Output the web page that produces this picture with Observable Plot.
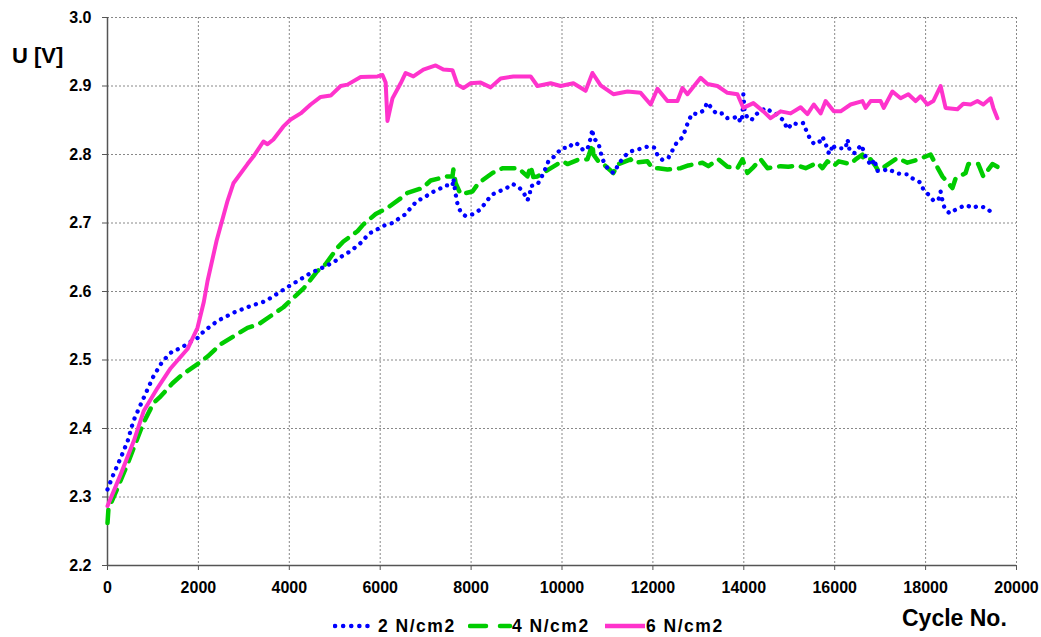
<!DOCTYPE html>
<html>
<head>
<meta charset="utf-8">
<script src="https://cdn.jsdelivr.net/npm/d3@7"></script>
<script src="https://cdn.jsdelivr.net/npm/@observablehq/plot@0.6"></script>
<style>
  html, body { margin: 0; padding: 0; background: #fff; }
  #wrap { position: relative; width: 1041px; height: 637px; font-family: "Liberation Sans", Arial, sans-serif; font-weight: bold; color: #000; }
  .lbl { position: absolute; white-space: nowrap; line-height: normal; }
  #ylabel { left: 12px; top: 43px; font-size: 22px; }
  #xlabel { left: 902px; top: 605px; font-size: 23px; }
  .legtext { font-size: 17.5px; letter-spacing: 1.5px; top: 616px; }
  .legsw { position: absolute; top: 619px; display: block; }
</style>
</head>
<body>
<div id="wrap">
  <div id="chart"></div>
  <div id="ylabel" class="lbl">U [V]</div>
  <div id="xlabel" class="lbl">Cycle No.</div>
</div>
<script>
const seriesNames = ["2 N/cm2", "4 N/cm2", "6 N/cm2"];
const xTicks = [0, 2000, 4000, 6000, 8000, 10000, 12000, 14000, 16000, 18000, 20000];
const yTicks = [2.2, 2.3, 2.4, 2.5, 2.6, 2.7, 2.8, 2.9, 3.0];

// 2 N/cm2 : [cycle, voltage]
const s2 = [[0,2.311],[130,2.333],[290,2.357],[440,2.381],[570,2.411],[730,2.435],[880,2.457],[1010,2.476],[1210,2.498],[1430,2.513],[1610,2.517],[1780,2.525],[1980,2.532],[2120,2.542],[2420,2.557],[2770,2.569],[3150,2.579],[3480,2.586],[4000,2.608],[4250,2.618],[4470,2.627],[4800,2.637],[4980,2.643],[5170,2.652],[5350,2.659],[5610,2.673],[5740,2.684],[5940,2.691],[6070,2.696],[6270,2.7],[6400,2.706],[6560,2.713],[6670,2.722],[6820,2.733],[6950,2.736],[7110,2.744],[7260,2.748],[7440,2.755],[7590,2.754],[7610,2.765],[7660,2.742],[7700,2.728],[7770,2.716],[7880,2.71],[8050,2.713],[8210,2.72],[8320,2.73],[8450,2.741],[8600,2.746],[8760,2.75],[8910,2.757],[9040,2.753],[9150,2.745],[9240,2.733],[9290,2.741],[9310,2.754],[9460,2.756],[9550,2.767],[9640,2.78],[9700,2.79],[9810,2.796],[9950,2.806],[10010,2.81],[10140,2.809],[10250,2.817],[10360,2.815],[10470,2.806],[10560,2.808],[10630,2.824],[10670,2.837],[10690,2.824],[10800,2.817],[10890,2.793],[11000,2.78],[11130,2.773],[11290,2.79],[11440,2.802],[11570,2.806],[11770,2.809],[11900,2.812],[12040,2.81],[12100,2.799],[12210,2.792],[12340,2.795],[12430,2.806],[12520,2.817],[12650,2.825],[12720,2.837],[12780,2.849],[12870,2.86],[12980,2.859],[13110,2.864],[13200,2.876],[13330,2.864],[13420,2.859],[13530,2.86],[13640,2.853],[13770,2.853],[13860,2.856],[13930,2.847],[13970,2.856],[13990,2.888],[14020,2.861],[14080,2.854],[14170,2.85],[14230,2.857],[14370,2.863],[14480,2.868],[14590,2.863],[14700,2.86],[14760,2.856],[14870,2.85],[14960,2.837],[15070,2.846],[15200,2.844],[15310,2.846],[15380,2.834],[15450,2.824],[15550,2.815],[15670,2.819],[15730,2.826],[15800,2.816],[15860,2.803],[15910,2.801],[15950,2.815],[16000,2.81],[16110,2.809],[16240,2.809],[16280,2.822],[16300,2.817],[16330,2.805],[16440,2.802],[16520,2.809],[16590,2.814],[16700,2.793],[16810,2.784],[16870,2.793],[16940,2.776],[17100,2.777],[17180,2.779],[17340,2.773],[17490,2.771],[17600,2.771],[17710,2.765],[17820,2.762],[17900,2.758],[17950,2.749],[18070,2.741],[18170,2.733],[18280,2.733],[18330,2.746],[18370,2.733],[18420,2.721],[18530,2.714],[18620,2.718],[18770,2.723],[18900,2.726],[19030,2.722],[19160,2.725],[19340,2.722],[19470,2.714]];

// 4 N/cm2
const s4 = [[0,2.262],[20,2.282],[220,2.313],[440,2.348],[660,2.386],[790,2.408],[1010,2.437],[1170,2.447],[1430,2.466],[1650,2.479],[1980,2.494],[2200,2.505],[2490,2.523],[2710,2.532],[3080,2.547],[3320,2.552],[3650,2.567],[3870,2.577],[4320,2.605],[4620,2.63],[4800,2.64],[5060,2.664],[5190,2.673],[5500,2.688],[5630,2.698],[5900,2.713],[6160,2.722],[6450,2.736],[6600,2.744],[6930,2.751],[7110,2.762],[7480,2.768],[7590,2.768],[7610,2.778],[7660,2.758],[7770,2.742],[8030,2.746],[8160,2.758],[8470,2.773],[8690,2.78],[9040,2.78],[9240,2.768],[9310,2.783],[9370,2.767],[9460,2.768],[9700,2.778],[9900,2.786],[10030,2.79],[10120,2.786],[10340,2.792],[10560,2.793],[10670,2.815],[10690,2.8],[10800,2.79],[10910,2.786],[11130,2.773],[11240,2.786],[11510,2.793],[11570,2.788],[11880,2.79],[11990,2.78],[12120,2.78],[12320,2.778],[12610,2.78],[12780,2.784],[13090,2.788],[13220,2.783],[13440,2.793],[13640,2.782],[13860,2.78],[13970,2.793],[14080,2.773],[14190,2.78],[14370,2.793],[14520,2.78],[14810,2.783],[14980,2.782],[15180,2.784],[15360,2.78],[15620,2.788],[15730,2.78],[15840,2.79],[15980,2.783],[16090,2.79],[16350,2.786],[16460,2.793],[16610,2.8],[16630,2.793],[16790,2.793],[16900,2.783],[16960,2.776],[17180,2.786],[17380,2.795],[17600,2.788],[17850,2.793],[18110,2.8],[18220,2.786],[18370,2.768],[18590,2.751],[18660,2.765],[18880,2.773],[18940,2.786],[19160,2.786],[19270,2.768],[19470,2.786],[19580,2.782]];

// 6 N/cm2
const s6 = [[0,2.287],[290,2.333],[580,2.382],[800,2.426],[1100,2.459],[1390,2.488],[1760,2.516],[1980,2.547],[2120,2.585],[2200,2.615],[2400,2.674],[2640,2.732],[2770,2.758],[3080,2.786],[3210,2.797],[3430,2.819],[3520,2.815],[3650,2.822],[3870,2.841],[4030,2.851],[4250,2.86],[4470,2.873],[4690,2.884],[4910,2.886],[5130,2.9],[5280,2.902],[5570,2.913],[5940,2.914],[6050,2.916],[6120,2.905],[6160,2.849],[6270,2.882],[6450,2.904],[6560,2.919],[6730,2.914],[6950,2.924],[7220,2.93],[7390,2.924],[7590,2.923],[7700,2.902],[7830,2.897],[7990,2.904],[8210,2.905],[8430,2.898],[8650,2.911],[8930,2.914],[9310,2.914],[9460,2.9],[9750,2.904],[9970,2.9],[10250,2.904],[10520,2.893],[10670,2.919],[10850,2.901],[11130,2.888],[11440,2.892],[11730,2.89],[11950,2.873],[12100,2.896],[12320,2.878],[12540,2.878],[12650,2.897],[12760,2.888],[13050,2.912],[13200,2.903],[13420,2.9],[13640,2.89],[13860,2.888],[13990,2.868],[14210,2.875],[14430,2.863],[14590,2.853],[14810,2.863],[15030,2.86],[15250,2.869],[15400,2.859],[15540,2.873],[15690,2.86],[15800,2.878],[15980,2.863],[16130,2.863],[16350,2.873],[16610,2.878],[16680,2.868],[16790,2.878],[17010,2.878],[17080,2.868],[17270,2.892],[17450,2.882],[17620,2.888],[17780,2.878],[17890,2.885],[18040,2.873],[18170,2.878],[18330,2.9],[18440,2.868],[18700,2.866],[18830,2.874],[18990,2.873],[19140,2.878],[19270,2.873],[19430,2.882],[19490,2.868],[19580,2.853]];

const colors = ["#0000FF", "#00CC00", "#FF33CC"];
const toRows = (arr) => arr.map(([x, y]) => ({x, y}));

const font = '"Liberation Sans", Arial, sans-serif';

const chart = Plot.plot({
  width: 1041,
  height: 600,
  marginLeft: 107,
  marginRight: 25,
  marginTop: 17,
  marginBottom: 35,
  style: { fontFamily: font, fontWeight: "bold", fontSize: "16px", color: "#000", background: "#fff" },
  x: { domain: [0, 20000], ticks: xTicks },
  y: { domain: [2.2, 3.0], ticks: yTicks },
  marks: [
    Plot.gridX(xTicks, { stroke: "#888", strokeOpacity: 1, strokeDasharray: "2,2", strokeWidth: 1 }),
    Plot.gridY(yTicks, { stroke: "#888", strokeOpacity: 1, strokeDasharray: "2,2", strokeWidth: 1 }),
    Plot.axisX(xTicks, { tickSize: 5, tickPadding: 11, tickFormat: d3.format("d"), label: null, fontSize: 16, fontWeight: "bold", stroke: "#555" }),
    Plot.axisY(yTicks, { tickSize: 5, tickPadding: 11, tickFormat: d3.format(".1f"), label: null, fontSize: 16, fontWeight: "bold", stroke: "#555" }),
    Plot.ruleX([0], { stroke: "#555", strokeWidth: 1.5 }),
    Plot.ruleY([2.2], { stroke: "#555", strokeWidth: 1.5 }),
    Plot.line(toRows(s4), { x: "x", y: "y", stroke: colors[1], strokeWidth: 4.5, strokeDasharray: "13,9", strokeLinecap: "round", curve: "linear" }),
    Plot.line(toRows(s2), { x: "x", y: "y", stroke: colors[0], strokeWidth: 4.3, strokeDasharray: "0.1,7.5", strokeLinecap: "round", curve: "linear" }),
    Plot.line(toRows(s6), { x: "x", y: "y", stroke: colors[2], strokeWidth: 4, strokeLinejoin: "round", curve: "linear" })
  ]
});
document.getElementById("chart").appendChild(chart);

// Legend (swatches + text, absolutely placed)
const wrap = document.getElementById("wrap");
const ns = "http://www.w3.org/2000/svg";
const legendItems = [
  { swLeft: 333, swW: 44, segs: [[2, 42]], dash: "0.1,8", cap: "round", textLeft: 378 },
  { swLeft: 468, swW: 46, segs: [[2, 18], [32, 42]], dash: null, cap: "round", textLeft: 512 },
  { swLeft: 603, swW: 44, segs: [[2, 42]], dash: null, cap: "butt", textLeft: 646 }
];
legendItems.forEach((it, i) => {
  const svg = document.createElementNS(ns, "svg");
  svg.setAttribute("width", it.swW);
  svg.setAttribute("height", 14);
  svg.setAttribute("class", "legsw");
  svg.style.left = it.swLeft + "px";
  it.segs.forEach(([a, b]) => {
    const ln = document.createElementNS(ns, "line");
    ln.setAttribute("x1", a); ln.setAttribute("x2", b);
    ln.setAttribute("y1", 7); ln.setAttribute("y2", 7);
    ln.setAttribute("stroke", colors[i]);
    ln.setAttribute("stroke-width", 4.5);
    ln.setAttribute("stroke-linecap", it.cap);
    if (it.dash) ln.setAttribute("stroke-dasharray", it.dash);
    svg.appendChild(ln);
  });
  wrap.appendChild(svg);
  const sp = document.createElement("div");
  sp.className = "lbl legtext";
  sp.style.left = it.textLeft + "px";
  sp.textContent = seriesNames[i];
  wrap.appendChild(sp);
});
</script>
</body>
</html>
